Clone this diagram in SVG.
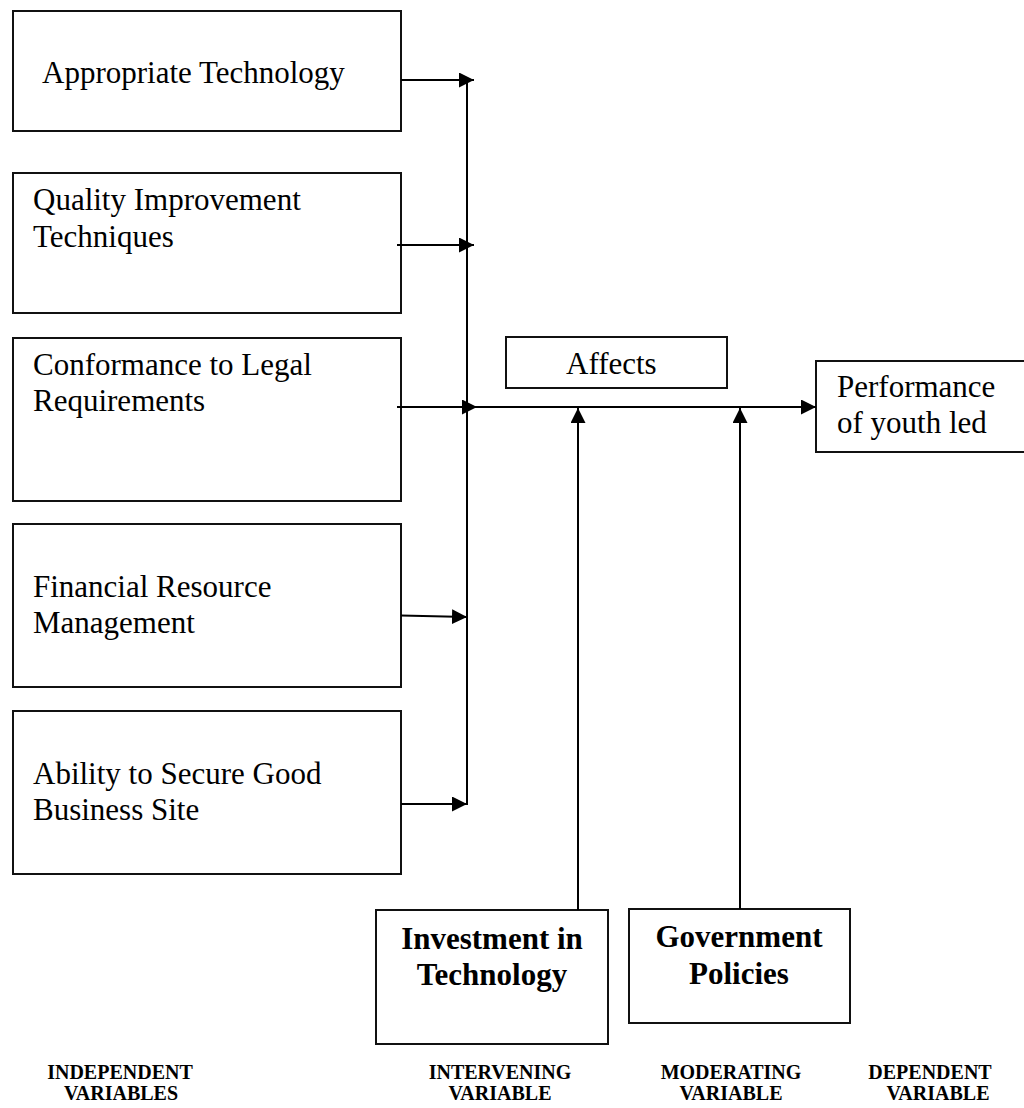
<svg xmlns="http://www.w3.org/2000/svg" width="1024" height="1108" viewBox="0 0 1024 1108">
  <style>
    .box { fill: #fff; stroke: #111; stroke-width: 2; }
    .txt { font-family: "Liberation Serif", "Times New Roman", serif; font-size: 31px; fill: #000; }
    .bold { font-family: "Liberation Serif", "Times New Roman", serif; font-size: 31px; font-weight: bold; fill: #000; }
    .cap { font-family: "Liberation Serif", "Times New Roman", serif; font-size: 20px; font-weight: bold; fill: #000; text-anchor: middle; }
    .link { stroke: #000; stroke-width: 2; fill: none; }
  </style>
  <defs>
    <marker id="head" markerUnits="userSpaceOnUse" markerWidth="16" markerHeight="16" refX="15" refY="7.5" orient="auto">
      <path d="M0,0 L15,7.5 L0,15 z" fill="#000"/>
    </marker>
  </defs>
  <rect width="1024" height="1108" fill="#fff"/>

  <!-- independent variables -->
  <g id="appropriate-technology">
    <rect class="box" x="13" y="11" width="388" height="120"/>
    <text class="txt" x="42" y="83">Appropriate Technology</text>
  </g>
  <g id="quality-improvement">
    <rect class="box" x="13" y="173" width="388" height="140"/>
    <text class="txt" x="33" y="210">Quality Improvement</text>
    <text class="txt" x="33" y="247">Techniques</text>
  </g>
  <g id="legal-conformance">
    <rect class="box" x="13" y="338" width="388" height="163"/>
    <text class="txt" x="33" y="375">Conformance to Legal</text>
    <text class="txt" x="33" y="411">Requirements</text>
  </g>
  <g id="financial-management">
    <rect class="box" x="13" y="524" width="388" height="163"/>
    <text class="txt" x="33" y="597">Financial Resource</text>
    <text class="txt" x="33" y="633">Management</text>
  </g>
  <g id="business-site">
    <rect class="box" x="13" y="711" width="388" height="163"/>
    <text class="txt" x="33" y="784">Ability to Secure Good</text>
    <text class="txt" x="33" y="820">Business Site</text>
  </g>

  <!-- relation label -->
  <g id="affects">
    <rect class="box" x="506" y="337" width="221" height="51"/>
    <text class="txt" x="566" y="374">Affects</text>
  </g>

  <!-- dependent variable -->
  <g id="performance">
    <rect class="box" x="816" y="361" width="212" height="91"/>
    <text class="txt" x="837" y="397">Performance</text>
    <text class="txt" x="837" y="433">of youth led</text>
  </g>

  <!-- intervening and moderating variables -->
  <g id="investment-technology">
    <rect class="box" x="376" y="910" width="232" height="134"/>
    <text class="bold" x="492" y="949" text-anchor="middle">Investment in</text>
    <text class="bold" x="492" y="985" text-anchor="middle">Technology</text>
  </g>
  <g id="government-policies">
    <rect class="box" x="629" y="909" width="221" height="114"/>
    <text class="bold" x="739" y="947" text-anchor="middle">Government</text>
    <text class="bold" x="739" y="984" text-anchor="middle">Policies</text>
  </g>

  <!-- connectors -->
  <g id="connectors">
    <line class="link" x1="467" y1="80" x2="467" y2="805"/>
    <line class="link" x1="401" y1="80" x2="474" y2="80" marker-end="url(#head)"/>
    <line class="link" x1="397" y1="245" x2="474" y2="245" marker-end="url(#head)"/>
    <line class="link" x1="397" y1="407" x2="477" y2="407" marker-end="url(#head)"/>
    <line class="link" x1="401" y1="615.5" x2="467" y2="617" marker-end="url(#head)"/>
    <line class="link" x1="401" y1="804" x2="467" y2="804" marker-end="url(#head)"/>
    <line class="link" x1="467" y1="407" x2="816" y2="407" marker-end="url(#head)"/>
    <line class="link" x1="578" y1="910" x2="578" y2="408" marker-end="url(#head)"/>
    <line class="link" x1="740" y1="909" x2="740" y2="408" marker-end="url(#head)"/>
  </g>

  <!-- column captions -->
  <g id="captions">
    <text class="cap" x="120" y="1079">INDEPENDENT</text>
    <text class="cap" x="121" y="1100">VARIABLES</text>
    <text class="cap" x="500" y="1079">INTERVENING</text>
    <text class="cap" x="500" y="1100">VARIABLE</text>
    <text class="cap" x="731" y="1079">MODERATING</text>
    <text class="cap" x="731" y="1100">VARIABLE</text>
    <text class="cap" x="930" y="1079">DEPENDENT</text>
    <text class="cap" x="938" y="1100">VARIABLE</text>
  </g>
</svg>
